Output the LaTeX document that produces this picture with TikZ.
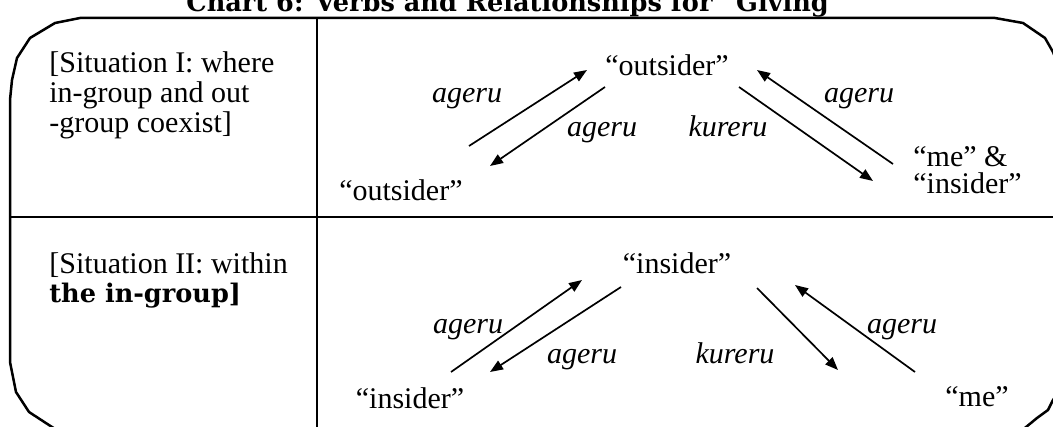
\documentclass[tikz,border=0pt]{standalone}
\usepackage{fontspec}
\setmainfont{Liberation Serif}
\newfontfamily\titlefont{DejaVu Serif}
\usetikzlibrary{arrows.meta}
\begin{document}
\begin{tikzpicture}[x=0.5pt,y=-0.5pt,
  txt/.style={inner sep=0pt, font=\fontsize{15}{15}\selectfont},
  verb/.style={inner sep=0pt, font=\fontsize{15}{15}\selectfont\itshape},
  boldtxt/.style={inner sep=0pt, font=\titlefont\bfseries\fontsize{12.8}{12.8}\selectfont},
  garrow/.style={-{Triangle[length=6.5pt,width=5pt]}, line width=0.85pt},
  frame/.style={line width=1.25pt, line join=round}]
\useasboundingbox (0,0) rectangle (1053,427);
\clip (0,0) rectangle (1053,427);
% title
\node[boldtxt, anchor=base] (title) at (515,12) {Chart 6: Verbs and Relationships for “Giving”};
% frame
\draw[frame] (80,18) -- (55,23) -- (30,38) -- (17,58) -- (12,80) -- (10,100) -- (10,362) -- (16,392) -- (29,412) -- (52,427) -- (60,432) -- (1020,432) -- (1037,418) -- (1048,410) -- (1053,400) -- (1060,390) -- (1060,70) -- (1053,52) -- (1045,38) -- (1023,23) -- (995,18) -- cycle;
\draw[frame] (317,18) -- (317,440);
\draw[frame] (10,217) -- (1060,217);
% situation I
\node[txt, anchor=base west] (s1a) at (49,73) {[Situation I: where};
\node[txt, anchor=base west] (s1b) at (49,103) {in-group and out};
\node[txt, anchor=base west] (s1c) at (49,133) {-group coexist]};
% situation II
\node[txt, anchor=base west] (s2a) at (49,273) {[Situation II: within};
\node[boldtxt, anchor=base west] (s2b) at (49,302) {the in-group]};
% upper diagram
\node[txt, anchor=base] (out1) at (667,76) {“outsider”};
\node[txt, anchor=base east] (out2) at (463,200) {“outsider”};
\node[txt, anchor=base west] (me1) at (913,167) {“me” \&};
\node[txt, anchor=base west] (ins1) at (913,194) {“insider”};
\node[verb, anchor=base] (v1) at (467,103) {ageru};
\node[verb, anchor=base] (v2) at (602,137) {ageru};
\node[verb, anchor=base] (v3) at (728,137) {kureru};
\node[verb, anchor=base] (v4) at (859,103) {ageru};
\coordinate (a1s) at (469,146); \coordinate (a1e) at (587,70);
\coordinate (a2s) at (605,87);  \coordinate (a2e) at (490,166);
\coordinate (a3s) at (893,164); \coordinate (a3e) at (757,70);
\coordinate (a4s) at (739,87);  \coordinate (a4e) at (873,181);
\draw[garrow] (a1s) -- (a1e);
\draw[garrow] (a2s) -- (a2e);
\draw[garrow] (a3s) -- (a3e);
\draw[garrow] (a4s) -- (a4e);
% lower diagram
\node[txt, anchor=base] (ins2) at (677,273) {“insider”};
\node[txt, anchor=base] (ins3) at (410,408) {“insider”};
\node[txt, anchor=base west] (me2) at (945,406) {“me”};
\node[verb, anchor=base] (v5) at (468,333) {ageru};
\node[verb, anchor=base] (v6) at (582,363) {ageru};
\node[verb, anchor=base] (v7) at (735,363) {kureru};
\node[verb, anchor=base] (v8) at (902,333) {ageru};
\coordinate (a5s) at (451,372); \coordinate (a5e) at (582,280);
\coordinate (a6s) at (621,287); \coordinate (a6e) at (490,372);
\coordinate (a7s) at (915,372); \coordinate (a7e) at (795,285);
\coordinate (a8s) at (757,288); \coordinate (a8e) at (838,370);
\draw[garrow] (a5s) -- (a5e);
\draw[garrow] (a6s) -- (a6e);
\draw[garrow] (a7s) -- (a7e);
\draw[garrow] (a8s) -- (a8e);
\end{tikzpicture}
\end{document}
